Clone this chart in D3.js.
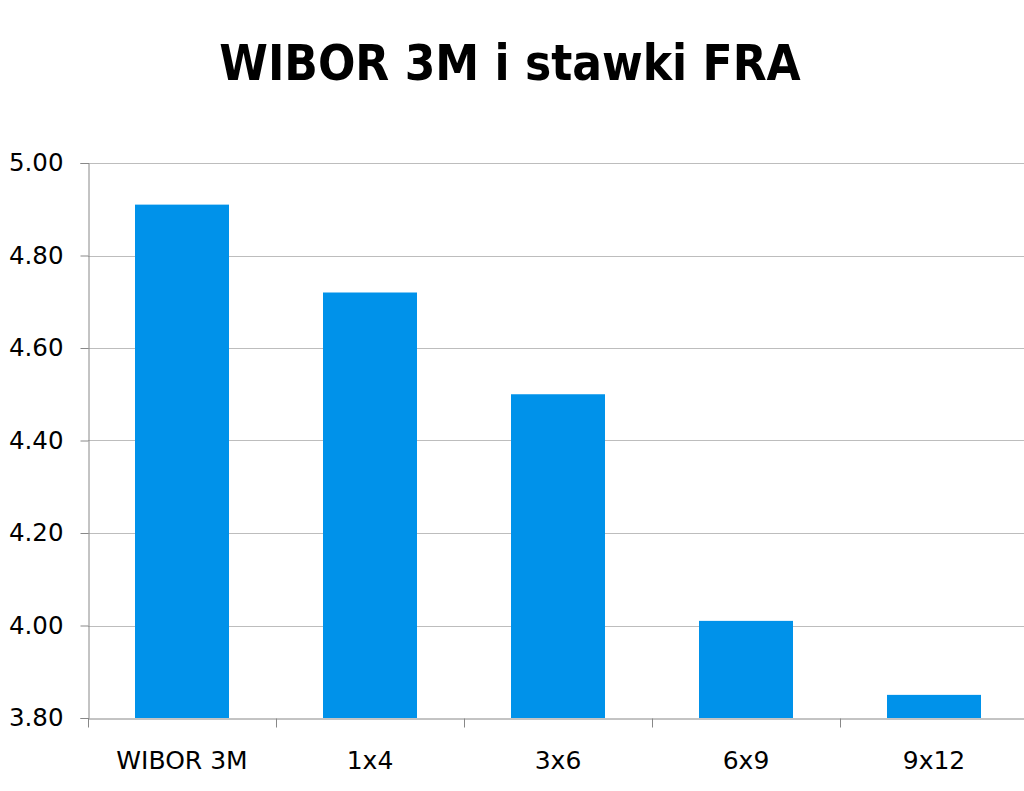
<!DOCTYPE html>
<html><head><meta charset="utf-8">
<script src="https://cdn.jsdelivr.net/npm/d3@7"></script>
<style>body{margin:0;background:#fff}</style>
</head><body>
<svg id="c" width="1024" height="791"></svg>
<script>
const categories = ["WIBOR 3M","1x4","3x6","6x9","9x12"];
const values = [4.91, 4.72, 4.50, 4.01, 3.85];
const yTicks = [3.80, 4.00, 4.20, 4.40, 4.60, 4.80, 5.00];
const title = "WIBOR 3M i stawki FRA";

const svg = d3.select("#c");
const m = {left: 88, right: 1028, top: 163, bottom: 718};
const titleFont = "Tahoma, 'DejaVu Sans Condensed', 'DejaVu Sans', sans-serif";
const labelFont = "Tahoma, 'DejaVu Sans', sans-serif";

const x = d3.scaleBand().domain(categories).range([m.left, m.right]).paddingInner(0.5).paddingOuter(0.25);
const y = d3.scaleLinear().domain([3.8, 5.0]).range([m.bottom, m.top]);

svg.append("text").attr("x", 510).attr("y", 80).attr("text-anchor", "middle")
  .attr("font-family", titleFont).attr("font-weight", "bold").attr("font-size", 49)
  .attr("fill", "#000").text(title);

// gridlines
svg.append("g").selectAll("line").data(yTicks.slice(1)).join("line")
  .attr("x1", m.left).attr("x2", m.right)
  .attr("y1", d => Math.round(y(d)) + 0.5).attr("y2", d => Math.round(y(d)) + 0.5)
  .attr("stroke", "#bdbdbd").attr("stroke-width", 1);

// bars
svg.append("g").selectAll("rect").data(values).join("rect")
  .attr("x", (d, i) => x(categories[i]))
  .attr("width", x.bandwidth())
  .attr("y", d => y(d))
  .attr("height", d => y(3.8) - y(d))
  .attr("fill", "#0092EA");

// y axis
const ya = svg.append("g").attr("transform", `translate(${m.left + 0.5},0)`)
  .call(d3.axisLeft(y).tickValues(yTicks).tickFormat(d3.format(".2f")).tickSize(8).tickPadding(17));
ya.select(".domain").attr("stroke", "#888");
ya.selectAll(".tick line").attr("stroke", "#888");
ya.selectAll("text").attr("font-family", labelFont).attr("font-size", 24.5).attr("fill", "#000");

// x axis
const xa = svg.append("g").attr("transform", `translate(0,${Math.round(y(3.8)) + 0.5})`)
  .call(d3.axisBottom(x).tickSize(0).tickPadding(33));
xa.select(".domain").attr("stroke", "#888");
xa.selectAll("text").attr("font-family", labelFont).attr("font-size", 25).attr("fill", "#000");
const boundaries = d3.range(categories.length + 1).map(i => m.left + i * (m.right - m.left) / categories.length);
xa.append("g").selectAll("line").data(boundaries).join("line")
  .attr("x1", d => Math.round(d) + 0.5).attr("x2", d => Math.round(d) + 0.5)
  .attr("y1", 0).attr("y2", 9).attr("stroke", "#888");
</script>
</body></html>
